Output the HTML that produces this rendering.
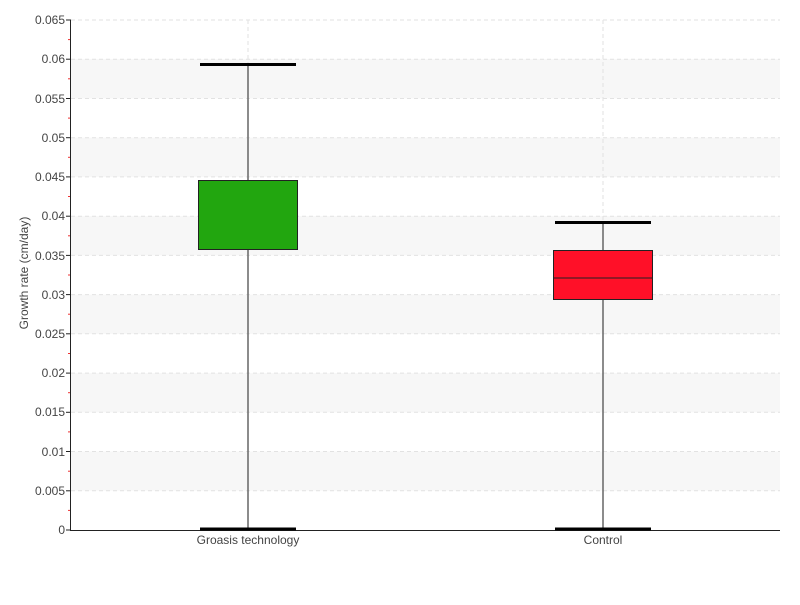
<!DOCTYPE html><html><head><style>body{margin:0;background:#fff}svg text{font-family:"Liberation Sans",sans-serif;fill:#444;font-size:12px}</style></head><body>
<svg width="800" height="600" xmlns="http://www.w3.org/2000/svg">
<g fill="#f7f7f7">
<rect x="71" y="59.2" width="709" height="39.2"/><rect x="71" y="137.7" width="709" height="39.2"/><rect x="71" y="216.2" width="709" height="39.2"/><rect x="71" y="294.6" width="709" height="39.2"/><rect x="71" y="373.1" width="709" height="39.2"/><rect x="71" y="451.5" width="709" height="39.2"/>
</g>
<g stroke="#e2e2e2" stroke-dasharray="4,3">
<line x1="71" x2="780" y1="20" y2="20"/><line x1="71" x2="780" y1="59.2" y2="59.2"/><line x1="71" x2="780" y1="98.5" y2="98.5"/><line x1="71" x2="780" y1="137.7" y2="137.7"/><line x1="71" x2="780" y1="176.9" y2="176.9"/><line x1="71" x2="780" y1="216.2" y2="216.2"/><line x1="71" x2="780" y1="255.4" y2="255.4"/><line x1="71" x2="780" y1="294.6" y2="294.6"/><line x1="71" x2="780" y1="333.8" y2="333.8"/><line x1="71" x2="780" y1="373.1" y2="373.1"/><line x1="71" x2="780" y1="412.3" y2="412.3"/><line x1="71" x2="780" y1="451.5" y2="451.5"/><line x1="71" x2="780" y1="490.8" y2="490.8"/>
<line x1="248" x2="248" y1="20" y2="530"/><line x1="603" x2="603" y1="20" y2="530"/>
</g>
<g stroke="#e33" stroke-width="1">
<line x1="68" x2="70" y1="39.6" y2="39.6"/><line x1="68" x2="70" y1="78.8" y2="78.8"/><line x1="68" x2="70" y1="118.1" y2="118.1"/><line x1="68" x2="70" y1="157.3" y2="157.3"/><line x1="68" x2="70" y1="196.5" y2="196.5"/><line x1="68" x2="70" y1="235.8" y2="235.8"/><line x1="68" x2="70" y1="275" y2="275"/><line x1="68" x2="70" y1="314.2" y2="314.2"/><line x1="68" x2="70" y1="353.5" y2="353.5"/><line x1="68" x2="70" y1="392.7" y2="392.7"/><line x1="68" x2="70" y1="431.9" y2="431.9"/><line x1="68" x2="70" y1="471.2" y2="471.2"/><line x1="68" x2="70" y1="510.4" y2="510.4"/>
</g>
<g stroke="#222">
<line x1="70.5" x2="70.5" y1="20" y2="530"/><line x1="70" x2="780" y1="530.5" y2="530.5"/>
<line x1="66" x2="71" y1="20" y2="20"/><line x1="66" x2="71" y1="59.2" y2="59.2"/><line x1="66" x2="71" y1="98.5" y2="98.5"/><line x1="66" x2="71" y1="137.7" y2="137.7"/><line x1="66" x2="71" y1="176.9" y2="176.9"/><line x1="66" x2="71" y1="216.2" y2="216.2"/><line x1="66" x2="71" y1="255.4" y2="255.4"/><line x1="66" x2="71" y1="294.6" y2="294.6"/><line x1="66" x2="71" y1="333.8" y2="333.8"/><line x1="66" x2="71" y1="373.1" y2="373.1"/><line x1="66" x2="71" y1="412.3" y2="412.3"/><line x1="66" x2="71" y1="451.5" y2="451.5"/><line x1="66" x2="71" y1="490.8" y2="490.8"/><line x1="66" x2="71" y1="530" y2="530"/>
</g>
<g text-anchor="end">
<text x="65" y="24">0.065</text><text x="65" y="63">0.06</text><text x="65" y="103">0.055</text><text x="65" y="142">0.05</text><text x="65" y="181">0.045</text><text x="65" y="220">0.04</text><text x="65" y="260">0.035</text><text x="65" y="299">0.03</text><text x="65" y="338">0.025</text><text x="65" y="377">0.02</text><text x="65" y="416">0.015</text><text x="65" y="456">0.01</text><text x="65" y="495">0.005</text><text x="65" y="534">0</text>
</g>
<text transform="translate(28,273) rotate(-90)" text-anchor="middle">Growth rate (cm/day)</text>
<text x="248" y="544" text-anchor="middle">Groasis technology</text>
<text x="603" y="544" text-anchor="middle">Control</text>
<g stroke="#666" stroke-width="1.5"><line x1="248" x2="248" y1="64" y2="529"/><line x1="603" x2="603" y1="222" y2="529"/></g>
<rect x="198.5" y="180.5" width="99" height="69" fill="#22a60f" stroke="#222"/>
<rect x="553.5" y="250.5" width="99" height="49" fill="#ff1028" stroke="#222"/>
<line x1="553" x2="653" y1="278" y2="278" stroke="#222"/>
<g stroke="#000" stroke-width="3"><line x1="200" x2="296" y1="64.5" y2="64.5"/><line x1="200" x2="296" y1="529" y2="529"/><line x1="555" x2="651" y1="222.5" y2="222.5"/><line x1="555" x2="651" y1="529" y2="529"/></g>
</svg></body></html>
